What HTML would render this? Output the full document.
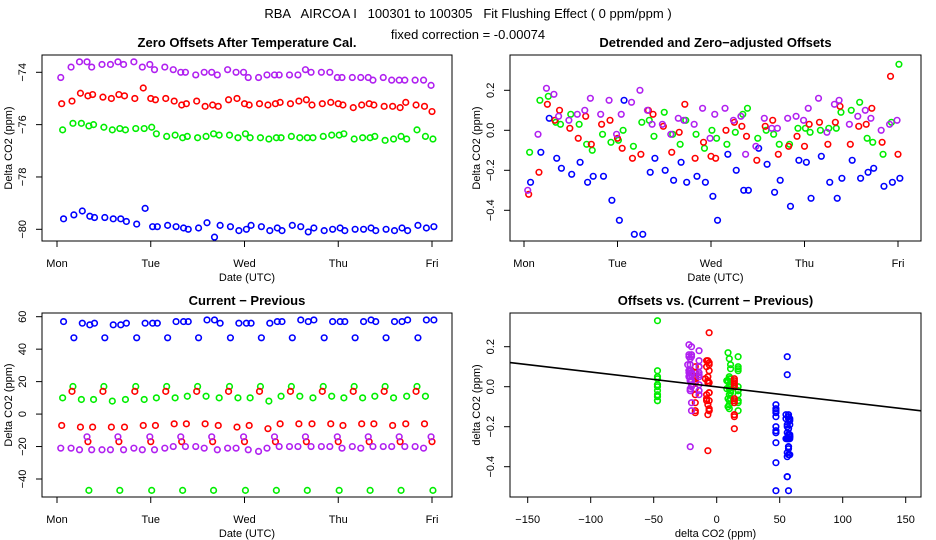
<!DOCTYPE html>
<html><head><meta charset="utf-8"><style>
html,body{margin:0;padding:0;background:#fff}
svg{display:block;font-family:"Liberation Sans",sans-serif}
</style></head><body>
<svg id="c" width="936" height="540" viewBox="0 0 936 540">
<text x="468" y="18" text-anchor="middle" font-size="13" xml:space="preserve">RBA   AIRCOA I   100301 to 100305   Fit Flushing Effect ( 0 ppm/ppm )</text>
<text x="468" y="39" text-anchor="middle" font-size="13">fixed correction = -0.00074</text>
</svg>
<script>
const times=[0.04,0.15,0.24,0.32,0.37,0.48,0.57,0.65,0.71,0.82,0.91,0.99,1.04,1.15,1.24,1.32,1.37,1.48,1.57,1.65,1.71,1.82,1.91,1.99,2.04,2.15,2.24,2.32,2.37,2.48,2.57,2.65,2.71,2.82,2.91,2.99,3.04,3.15,3.24,3.32,3.37,3.48,3.57,3.65,3.71,3.82,3.91,3.99];
const dayLabels=["Mon","Tue","Wed","Thu","Fri"];
const seriesNames=["blue","green","red","purple"];
const seriesColors=["#0000ff","#00ee00","#ff0000","#b020f0"];
const timeShift=[0.03,0.02,0.01,0.0];
const offBlue=[-79.6,-79.45,-79.3,-79.5,-79.55,-79.55,-79.6,-79.6,-79.7,-79.8,-79.2,-79.9,-79.9,-79.85,-79.9,-79.95,-80.0,-79.95,-79.75,-80.3,-79.85,-79.9,-80.05,-80.0,-79.85,-79.9,-80.05,-79.95,-80.05,-79.85,-79.9,-80.1,-79.95,-80.05,-80.0,-79.95,-80.05,-80.0,-80.0,-79.95,-80.05,-80.0,-80.05,-79.95,-80.05,-79.85,-79.95,-79.9];
const offGreen=[-76.2,-75.95,-75.95,-76.05,-76.0,-76.1,-76.2,-76.15,-76.2,-76.15,-76.15,-76.1,-76.35,-76.45,-76.4,-76.5,-76.45,-76.5,-76.45,-76.35,-76.4,-76.4,-76.5,-76.35,-76.5,-76.5,-76.55,-76.5,-76.5,-76.45,-76.5,-76.5,-76.5,-76.45,-76.4,-76.4,-76.35,-76.55,-76.5,-76.5,-76.45,-76.6,-76.55,-76.45,-76.55,-76.2,-76.45,-76.55];
const offRed=[-75.2,-75.1,-74.8,-74.9,-74.85,-74.95,-75.0,-74.85,-74.9,-75.0,-74.6,-75.0,-75.05,-75.0,-75.1,-75.25,-75.2,-75.1,-75.3,-75.25,-75.3,-75.05,-75.0,-75.2,-75.25,-75.2,-75.25,-75.2,-75.15,-75.2,-75.1,-75.05,-75.25,-75.2,-75.15,-75.2,-75.25,-75.35,-75.25,-75.2,-75.25,-75.3,-75.3,-75.35,-75.15,-75.25,-75.3,-75.5];
const offPurple=[-74.2,-73.8,-73.6,-73.6,-73.8,-73.7,-73.7,-73.6,-73.7,-73.6,-73.8,-73.7,-73.9,-73.8,-73.9,-74.0,-74.0,-74.1,-74.0,-74.0,-74.1,-73.9,-74.0,-74.0,-74.2,-74.2,-74.1,-74.1,-74.1,-74.1,-74.1,-73.9,-74.0,-74.0,-74.0,-74.2,-74.2,-74.2,-74.2,-74.2,-74.3,-74.2,-74.3,-74.3,-74.3,-74.3,-74.3,-74.5];
const detBlue=[-0.26,-0.11,0.06,-0.14,-0.19,-0.22,-0.16,-0.26,-0.23,-0.23,-0.35,-0.45,0.15,-0.52,-0.52,-0.21,-0.14,-0.20,-0.25,-0.16,-0.26,-0.23,-0.26,-0.33,-0.45,-0.12,-0.20,-0.30,-0.30,-0.09,-0.17,-0.31,-0.25,-0.38,-0.15,-0.16,-0.34,-0.13,-0.26,-0.34,-0.24,-0.15,-0.24,-0.21,-0.19,-0.28,-0.26,-0.24];
const detGreen=[-0.11,0.15,0.17,0.04,0.03,0.08,0.03,-0.07,-0.10,-0.02,-0.06,-0.05,0.00,-0.08,0.04,0.05,-0.03,0.09,-0.02,-0.07,0.05,-0.02,-0.09,0.00,-0.04,-0.07,-0.01,0.08,0.11,-0.04,0.00,-0.02,-0.07,-0.07,0.01,0.01,-0.01,0.00,0.01,0.01,0.09,0.10,0.14,-0.04,-0.06,-0.12,0.04,0.33];
const detRed=[-0.32,-0.21,0.13,0.05,0.10,0.01,-0.04,0.07,-0.07,0.03,0.05,-0.04,-0.09,-0.14,-0.12,0.10,0.08,0.02,-0.11,-0.01,0.13,-0.14,-0.06,-0.13,-0.14,0.00,0.04,0.02,-0.03,-0.15,0.02,0.05,-0.12,-0.08,-0.03,-0.08,0.03,0.04,-0.07,0.04,0.12,-0.07,0.02,0.03,0.11,-0.06,0.27,-0.12];
const detPurple=[-0.30,-0.02,0.21,0.18,0.07,0.05,0.08,0.10,0.16,0.08,0.15,-0.02,0.08,0.14,0.20,0.10,0.03,0.03,-0.02,0.06,0.05,0.03,0.11,-0.04,0.08,0.11,0.05,0.07,-0.12,-0.08,0.06,0.01,0.01,0.06,0.07,0.05,0.11,0.16,-0.01,0.13,0.15,0.03,0.07,0.10,0.06,0.00,0.03,0.05];
const diffBlue=[57,47,56,55,56,47,55,55,56,47,56,56,56,47,57,57,57,47,58,58,56,47,56,56,56,47,56,57,57,47,58,57,58,47,57,57,57,47,57,58,57,47,57,57,58,47,58,58];
const diffGreen=[10,17,9,-47,9,17,8,-47,9,17,9,-47,10,17,10,-47,11,17,11,-47,10,17,10,-47,10,17,8,-47,11,17,11,-47,10,17,11,-47,10,17,10,-47,11,17,10,-47,11,17,11,-47];
const diffRed=[-7,14,-8,-17,-8,14,-8,-17,-8,14,-7,-17,-7,14,-6,-17,-6,14,-6,-17,-7,14,-8,-17,-7,14,-9,-17,-6,14,-6,-17,-6,14,-6,-17,-7,14,-6,-17,-6,14,-7,-17,-6,14,-6,-17];
const diffPurple=[-21,-21,-22,-14,-22,-22,-22,-14,-22,-21,-22,-14,-22,-21,-20,-14,-20,-20,-21,-14,-22,-21,-21,-14,-22,-23,-21,-14,-20,-20,-20,-14,-20,-20,-20,-14,-21,-20,-21,-14,-20,-20,-20,-14,-20,-20,-21,-14];
const offTicks=[-74,-76,-78,-80];
const detTicks=[0.2,0.0,-0.2,-0.4];
const diffTicks=[60,40,20,0,-20,-40];
const scatXTicks=[-150,-100,-50,0,50,100,150];
const fitSlope=-0.00074;
const fitIntercept=0.0;

const offs=[offBlue,offGreen,offRed,offPurple];
const dets=[detBlue,detGreen,detRed,detPurple];
const diffs=[diffBlue,diffGreen,diffRed,diffPurple];
const NS="http://www.w3.org/2000/svg";
const svg=document.getElementById('c');
function mk(tag,attrs,parent){const e=document.createElementNS(NS,tag);for(const k in attrs)e.setAttribute(k,attrs[k]);(parent||svg).appendChild(e);return e;}
function lin(d0,d1,r0,r1){return v=>r0+(v-d0)*(r1-r0)/(d1-d0);}

function panel(p){
  const g=mk('g',{});
  
  
  const t=mk('text',{x:(p.L+p.R)/2,y:p.T-8,'text-anchor':'middle','font-size':13,'font-weight':'bold'},g);
  t.textContent=p.title;
  
  
  const box=mk('rect',{x:p.L,y:p.T,width:p.R-p.L,height:p.B-p.T,fill:'none',stroke:'#000','stroke-width':1},g);
  
  
  // x ticks
  const xa=mk('g',{},g);
  
  
  p.xticks.forEach((v,i)=>{
    const x=p.sx(v);
    mk('line',{x1:x,x2:x,y1:p.B,y2:p.B+6,stroke:'#000'},xa);
    const l=mk('text',{x:x,y:p.B+26,'text-anchor':'middle','font-size':11},xa);
    l.textContent=p.xlabels?p.xlabels[i]:String(v).replace('-','\u2212');
    
    
  });
  const xt=mk('text',{x:(p.L+p.R)/2,y:p.B+40,'text-anchor':'middle','font-size':11},g);
  xt.textContent=p.xtitle;
  
  
  const ya=mk('g',{},g);
  
  
  p.yticks.forEach(v=>{
    const y=p.sy(v);
    mk('line',{x1:p.L,x2:p.L-6,y1:y,y2:y,stroke:'#000'},ya);
    const lx=p.L-16;
    const l=mk('text',{x:lx,y:y,'text-anchor':'middle','font-size':11,transform:`rotate(-90 ${lx} ${y})`},ya);
    let s=(p.ydec?v.toFixed(1):String(v)).replace('-','\u2212');
    l.textContent=s;
    
    
  });
  const yx=p.L-30, yy=(p.T+p.B)/2;
  const yt=mk('text',{x:yx,y:yy,'text-anchor':'middle','font-size':11,transform:`rotate(-90 ${yx} ${yy})`},g);
  yt.textContent=p.ytitle;
  
  
  return g;
}
function pts(g,p,xs,ys,si){
  const sg=mk('g',{},g);
  
  
  for(let i=0;i<ys.length;i++){
    const c=mk('circle',{cx:p.sx(xs[i]),cy:p.sy(ys[i]),r:2.8,fill:'none',stroke:seriesColors[si],'stroke-width':1.6},sg);
    
    
  }
}
const dayX0=[0,4];
// Panel 1
const p1={name:'zero-offsets-panel',title:'Zero Offsets After Temperature Cal.',L:42,R:452,T:55,B:241,
  sx:lin(0,4,57,432),sy:lin(-74,-80,72.3,229.3),xticks:[0,1,2,3,4],xlabels:dayLabels,yticks:offTicks,
  xtitle:'Date (UTC)',ytitle:'Delta CO2 (ppm)'};
const g1=panel(p1);
const p2={name:'detrended-offsets-panel',title:'Detrended and Zero\u2212adjusted Offsets',L:510,R:921,T:55,B:241,
  sx:lin(0,4,524,898),sy:lin(0,-0.4,130.3,210.3),xticks:[0,1,2,3,4],xlabels:dayLabels,yticks:detTicks,ydec:true,
  xtitle:'Date (UTC)',ytitle:'Delta CO2 (ppm)'};
const g2=panel(p2);
const p3={name:'current-minus-previous-panel',title:'Current \u2212 Previous',L:42,R:452,T:313,B:497,
  sx:lin(0,4,57,432),sy:lin(60,-40,316.7,479),xticks:[0,1,2,3,4],xlabels:dayLabels,yticks:diffTicks,
  xtitle:'Date (UTC)',ytitle:'Delta CO2 (ppm)'};
const g3=panel(p3);
const p4={name:'offsets-vs-diff-panel',title:'Offsets vs. (Current \u2212 Previous)',L:510,R:921,T:313,B:497,
  sx:lin(-150,150,527.7,905.7),sy:lin(0,-0.4,386.7,466.7),xticks:scatXTicks,yticks:detTicks,ydec:true,
  xtitle:'delta CO2 (ppm)',ytitle:'delta CO2 (ppm)'};
const g4=panel(p4);
for(let s=0;s<4;s++){
  const ts=times.map(t=>t+timeShift[s]);
  pts(g1,p1,ts,offs[s],s);
  pts(g2,p2,ts,dets[s],s);
  pts(g3,p3,ts,diffs[s],s);
  pts(g4,p4,diffs[s],dets[s],s);
}
const x0=-163,x1=163;
const fl=mk('line',{x1:p4.L,x2:p4.R,y1:p4.sy(fitIntercept+fitSlope*x0),y2:p4.sy(fitIntercept+fitSlope*x1),stroke:'#000','stroke-width':1.6},g4);


</script>
</body></html>
